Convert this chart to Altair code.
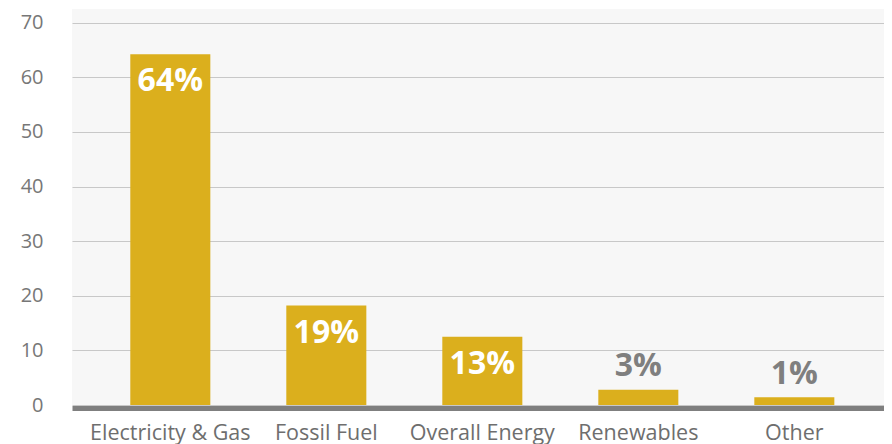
import altair as alt
import pandas as pd

categories = ["Electricity & Gas", "Fossil Fuel", "Overall Energy", "Renewables", "Other"]
values = [64.2, 18.2, 12.5, 2.8, 1.4]
labels = ["64%", "19%", "13%", "3%", "1%"]

df = pd.DataFrame({"category": categories, "value": values, "label": labels})

FONT = "Open Sans"
GOLD = "#DBAF1D"
GRAY = "#7F7F7F"

x = alt.X(
    "category:N",
    sort=categories,
    title=None,
    scale=alt.Scale(paddingInner=0.487, paddingOuter=0.346, align=0.54),
    axis=alt.Axis(
        labelAngle=0,
        labelFont=FONT,
        labelFontSize=21.5,
        labelColor="#6E6E6E",
        labelPadding=14,
        ticks=False,
        tickSize=0,
        domainColor=GRAY,
        domainWidth=5,
        offset=3,
        grid=False,
    ),
)
y = alt.Y(
    "value:Q",
    title=None,
    scale=alt.Scale(domain=[0, 72.5], nice=False, zero=True),
    axis=alt.Axis(
        values=[0, 10, 20, 30, 40, 50, 60, 70],
        labelFont=FONT,
        labelFontSize=20,
        labelColor="#777777",
        labelPadding=29,
        ticks=False,
        tickSize=0,
        domain=False,
        grid=True,
        gridColor="#C8C8C8",
        gridWidth=1,
    ),
)

base = alt.Chart(df)

bars = base.mark_bar(color=GOLD).encode(x=x, y=y)

inside = base.transform_filter("datum.value >= 5").mark_text(
    font=FONT, fontSize=32, fontWeight="bold", color="white",
    baseline="middle", align="center", dy=27,
).encode(x=alt.X("category:N", sort=categories), y="value:Q", text="label:N")

outside = base.transform_filter("datum.value < 5").mark_text(
    font=FONT, fontSize=32, fontWeight="bold", color=GRAY,
    baseline="middle", align="center", dy=-23.5,
).encode(x=alt.X("category:N", sort=categories), y="value:Q", text="label:N")

chart = (
    alt.layer(bars, inside, outside)
    .properties(
        width=812,
        height=396,
        autosize=alt.AutoSizeParams(type="none"),
        padding={"left": 64, "top": 1, "right": 0, "bottom": 40},
        background="white",
    )
    .configure_view(fill="#F7F7F7", stroke=None)
)

chart.save("out.html", embed_options={"renderer": "svg", "actions": False})
